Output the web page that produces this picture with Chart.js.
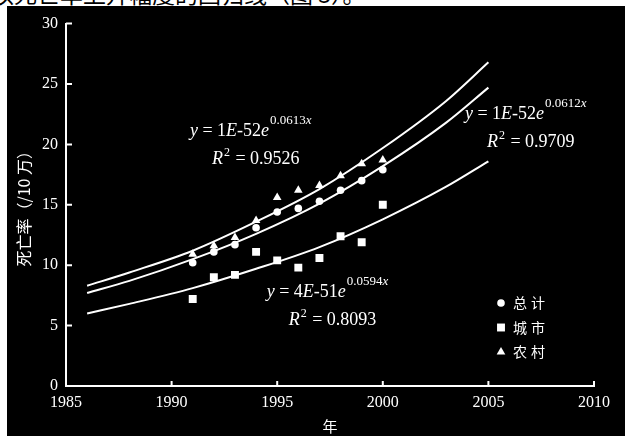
<!DOCTYPE html>
<html>
<head>
<meta charset="utf-8">
<script src="https://cdn.jsdelivr.net/npm/chart.js@4.4.1/dist/chart.umd.min.js"></script>
<style>
  html, body { margin: 0; padding: 0; background: #fff; width: 625px; height: 436px; overflow: hidden; position: relative; }
  #caption { position: absolute; left: -9px; top: -18px; font-size: 23px; font-family: 'Noto Sans CJK SC'; line-height: 1; white-space: nowrap; color: #000; }
  #panel { position: absolute; left: 7px; top: 6px; width: 618px; height: 430px; background: #000; }
</style>
</head>
<body>
<div id="caption">以死亡率上升幅度的回归线（图 3）。</div>
<div id="panel"><canvas id="chart"></canvas></div>
<script>
// observed death rates (per 100k)
const years = [1991, 1992, 1993, 1994, 1995, 1996, 1997, 1998, 1999, 2000];
const totalRate = [10.2, 11.1, 11.7, 13.1, 14.4, 14.7, 15.3, 16.2, 17.0, 17.9];
const urbanRate = [7.2, 9.0, 9.2, 11.1, 10.4, 9.8, 10.6, 12.4, 11.9, 15.0];
const ruralRate = [10.9, 11.6, 12.3, 13.7, 15.6, 16.2, 16.6, 17.4, 18.4, 18.7];

// trend curves
const fitYears = [1986, 1988, 1991, 1994, 1997, 2000, 2003, 2005];
const ruralFit = [8.3, 9.4, 11.2, 13.6, 16.3, 19.7, 23.6, 26.8];
const totalFit = [7.7, 8.7, 10.5, 12.6, 15.1, 18.2, 21.8, 24.7];
const urbanFit = [6.0, 6.8, 8.1, 9.7, 11.5, 13.8, 16.5, 18.6];

const xTicks = [1985, 1990, 1995, 2000, 2005, 2010];
const yTicks = [0, 5, 10, 15, 20, 25, 30];
const seriesNames = ['总计', '城市', '农村'];

// equation texts
const fitCoef = ['1E-52', '1E-52', '4E-51'];
const fitRate = ['0.0613', '0.0612', '0.0594'];
const fitR2 = ['0.9526', '0.9709', '0.8093'];
const eqAnchor = [[1990.87, 20.69], [2003.89, 22.07], [1994.5, 7.36]];

const pts = (xs, ys) => xs.map((x, i) => ({x: x, y: ys[i]}));
const serif = "'Liberation Serif', 'Times New Roman', serif";
const cjk = "'Noto Sans CJK SC', sans-serif";

function fitLine(data) {
  return {
    type: 'line', data: data, borderColor: '#fff', borderWidth: 2,
    pointRadius: 0, cubicInterpolationMode: 'monotone', fill: false
  };
}

function drawRuns(ctx, x, y, runs) {
  runs.forEach(r => {
    ctx.font = (r.it ? 'italic ' : '') + r.size + 'px ' + serif;
    ctx.fillText(r.t, x, y - (r.up || 0));
    x += ctx.measureText(r.t).width + (r.gap || 0);
  });
}

const extras = {
  id: 'extras',
  afterDraw(chart) {
    const {ctx, chartArea: a, scales: {x, y}} = chart;
    ctx.save();
    ctx.strokeStyle = '#fff';
    ctx.fillStyle = '#fff';
    ctx.lineWidth = 2;
    // inward tick marks
    ctx.beginPath();
    yTicks.slice(1).forEach(v => {
      const py = y.getPixelForValue(v);
      ctx.moveTo(a.left, py); ctx.lineTo(a.left + 6, py);
    });
    xTicks.slice(1).forEach(v => {
      const px = x.getPixelForValue(v);
      ctx.moveTo(px, a.bottom); ctx.lineTo(px, a.bottom - 5);
    });
    ctx.stroke();

    // equations
    ctx.textBaseline = 'alphabetic';
    ctx.textAlign = 'left';
    eqAnchor.forEach((p, i) => {
      const px = x.getPixelForValue(p[0]);
      const py = y.getPixelForValue(p[1]);
      const m = fitCoef[i].match(/^(\d+)E(.*)$/);
      drawRuns(ctx, px, py, [
        {t: 'y', it: true, size: 18},
        {t: ' = ' + m[1], size: 18},
        {t: 'E', it: true, size: 18},
        {t: m[2], size: 18},
        {t: 'e', it: true, size: 18, gap: 1},
        {t: fitRate[i], size: 13, up: 12},
        {t: 'x', it: true, size: 13, up: 12}
      ]);
      drawRuns(ctx, px + 22, py + 28, [
        {t: 'R', it: true, size: 18, gap: 1},
        {t: '2', size: 12, up: 8, gap: 1},
        {t: ' = ' + fitR2[i], size: 18}
      ]);
    });

    // legend
    const scatter = chart.data.datasets.filter(d => d.type === 'scatter');
    ctx.font = '14px ' + cjk;
    ctx.textBaseline = 'middle';
    scatter.forEach((d, i) => {
      const lx = a.right - 93;
      const ly = a.bottom - 83 + i * 24.5;
      Chart.helpers.drawPoint(ctx, {pointStyle: d.pointStyle, radius: d.pointRadius, rotation: 0, borderWidth: 0}, lx, ly);
      [...d.label].forEach((ch, k) => ctx.fillText(ch, lx + 12 + k * 18, ly));
    });
    ctx.restore();
  }
};

new Chart(document.getElementById('chart'), {
  data: {
    datasets: [
      {type: 'scatter', label: seriesNames[0], data: pts(years, totalRate), pointStyle: 'circle', pointRadius: 3.8,
        backgroundColor: '#fff', borderColor: '#fff', borderWidth: 0},
      {type: 'scatter', label: seriesNames[1], data: pts(years, urbanRate), pointStyle: 'rect', pointRadius: 5.6,
        backgroundColor: '#fff', borderColor: '#fff', borderWidth: 0},
      {type: 'scatter', label: seriesNames[2], data: pts(years, ruralRate), pointStyle: 'triangle', pointRadius: 5,
        backgroundColor: '#fff', borderColor: '#fff', borderWidth: 0},
      fitLine(pts(fitYears, ruralFit)),
      fitLine(pts(fitYears, totalFit)),
      fitLine(pts(fitYears, urbanFit))
    ]
  },
  options: {
    responsive: true,
    maintainAspectRatio: false,
    animation: false,
    layout: {padding: {left: 0, top: 16, right: 31, bottom: 0}},
    plugins: {legend: {display: false}, tooltip: {enabled: false}},
    scales: {
      x: {
        type: 'linear', min: 1985, max: 2010,
        afterBuildTicks: s => { s.ticks = xTicks.map(v => ({value: v})); },
        afterFit: s => { s.height = 50; },
        grid: {drawOnChartArea: false, drawTicks: false, color: 'rgba(0,0,0,0)'},
        border: {display: true, color: '#fff', width: 2},
        ticks: {color: '#fff', padding: 7, font: {family: serif, size: 16}, callback: v => String(v), maxRotation: 0},
        title: {display: true, text: '年', color: '#fff', font: {family: cjk, size: 15}, padding: {top: 0, bottom: 1}}
      },
      y: {
        type: 'linear', min: 0, max: 30,
        afterBuildTicks: s => { s.ticks = yTicks.map(v => ({value: v})); },
        afterFit: s => { s.width = 59; },
        grid: {drawOnChartArea: false, drawTicks: false, color: 'rgba(0,0,0,0)'},
        border: {display: true, color: '#fff', width: 2},
        ticks: {color: '#fff', padding: 8, font: {family: serif, size: 16}},
        title: {display: true, text: '死亡率（/10 万）', color: '#fff', font: {family: cjk, size: 16}, padding: {top: 7, bottom: 0}}
      }
    }
  },
  plugins: [extras]
});
</script>
</body>
</html>
